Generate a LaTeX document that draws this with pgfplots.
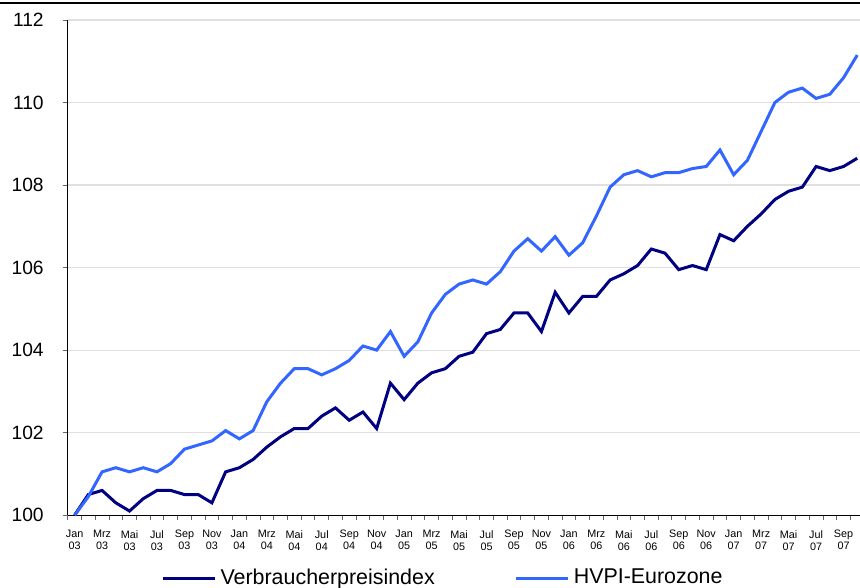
\documentclass[border=0pt]{standalone}
\usepackage{fontspec}
\setmainfont{Liberation Sans}
\usepackage{pgfplots}
\pgfplotsset{compat=1.18}
\usepackage{pgfplotstable}
\definecolor{vpi}{RGB}{0,0,128}
\definecolor{hvpi}{RGB}{51,102,255}
\definecolor{gridc}{RGB}{224,224,224}
\pgfplotstableread{
i vpi hvpi
0 100.00 100.00
1 100.50 100.45
2 100.60 101.05
3 100.30 101.15
4 100.10 101.05
5 100.40 101.15
6 100.60 101.05
7 100.60 101.25
8 100.50 101.60
9 100.50 101.70
10 100.30 101.80
11 101.05 102.05
12 101.15 101.85
13 101.35 102.05
14 101.65 102.75
15 101.90 103.20
16 102.10 103.55
17 102.10 103.55
18 102.40 103.40
19 102.60 103.55
20 102.30 103.75
21 102.50 104.10
22 102.10 104.00
23 103.20 104.45
24 102.80 103.85
25 103.20 104.20
26 103.45 104.90
27 103.55 105.35
28 103.85 105.60
29 103.95 105.70
30 104.40 105.60
31 104.50 105.90
32 104.90 106.40
33 104.90 106.70
34 104.45 106.40
35 105.40 106.75
36 104.90 106.30
37 105.30 106.60
38 105.30 107.25
39 105.70 107.95
40 105.85 108.25
41 106.05 108.35
42 106.45 108.20
43 106.35 108.30
44 105.95 108.30
45 106.05 108.40
46 105.95 108.45
47 106.80 108.85
48 106.65 108.25
49 107.00 108.60
50 107.30 109.30
51 107.65 110.00
52 107.85 110.25
53 107.95 110.35
54 108.45 110.10
55 108.35 110.20
56 108.45 110.60
57 108.65 111.15
}\datatable
\begin{document}
\begin{tikzpicture}
\begin{axis}[
  at={(0,0)}, anchor=south west,
  scale only axis, width=396pt, height=247.5pt,
  xmin=-0.5, xmax=57.2, ymin=100, ymax=112,
  axis x line*=bottom, axis y line*=left,
  x axis line style={-, black, line width=0.6pt},
  y axis line style={-, black, line width=0.6pt},
  clip=false,
  ytick={100,102,...,112},
  ymajorgrids, grid style={gridc, line width=0.6pt},
  xtick={0,2,...,56},
  xticklabels={{Jan\\03},{Mrz\\03},{Mai\\03},{Jul\\03},{Sep\\03},{Nov\\03},
    {Jan\\04},{Mrz\\04},{Mai\\04},{Jul\\04},{Sep\\04},{Nov\\04},
    {Jan\\05},{Mrz\\05},{Mai\\05},{Jul\\05},{Sep\\05},{Nov\\05},
    {Jan\\06},{Mrz\\06},{Mai\\06},{Jul\\06},{Sep\\06},{Nov\\06},
    {Jan\\07},{Mrz\\07},{Mai\\07},{Jul\\07},{Sep\\07}},
  minor xtick={-0.5,0.5,...,56.5},
  tick align=outside,
  major x tick style={draw=none},
  minor x tick style={black!60, line width=0.4pt},
  minor tick length=2.5pt,
  major tick length=2.5pt,
  y tick style={black!60, line width=0.4pt},
  /pgf/number format/assume math mode=true,
  yticklabel style={font=\fontsize{9.6}{11}\selectfont, xshift=-6pt},
  xticklabel style={font=\fontsize{5.4}{6}\selectfont, align=center, yshift=-1.5pt},
  legend columns=2,
  legend style={draw=none, fill=none, at={(0.475,-0.127)}, anchor=center,
    font=\fontsize{10.7}{12}\selectfont,
    /tikz/every even column/.append style={column sep=38pt}},
  legend image code/.code={\draw[#1] (0pt,0pt) -- (26pt,0pt);},
]
\addplot[vpi, line width=1.5pt] table[x=i, y=vpi] {\datatable};
\addlegendentry{Verbraucherpreisindex}
\addplot[hvpi, line width=1.5pt] table[x=i, y=hvpi] {\datatable};
\addlegendentry{HVPI-Eurozone}
\end{axis}
\draw[black, line width=0.6pt] (-33.85pt,256pt) -- (396pt,256pt);
\pgfresetboundingbox
\path[use as bounding box] (-33.85pt,-36pt) rectangle (396pt,257.5pt);
\end{tikzpicture}
\end{document}
